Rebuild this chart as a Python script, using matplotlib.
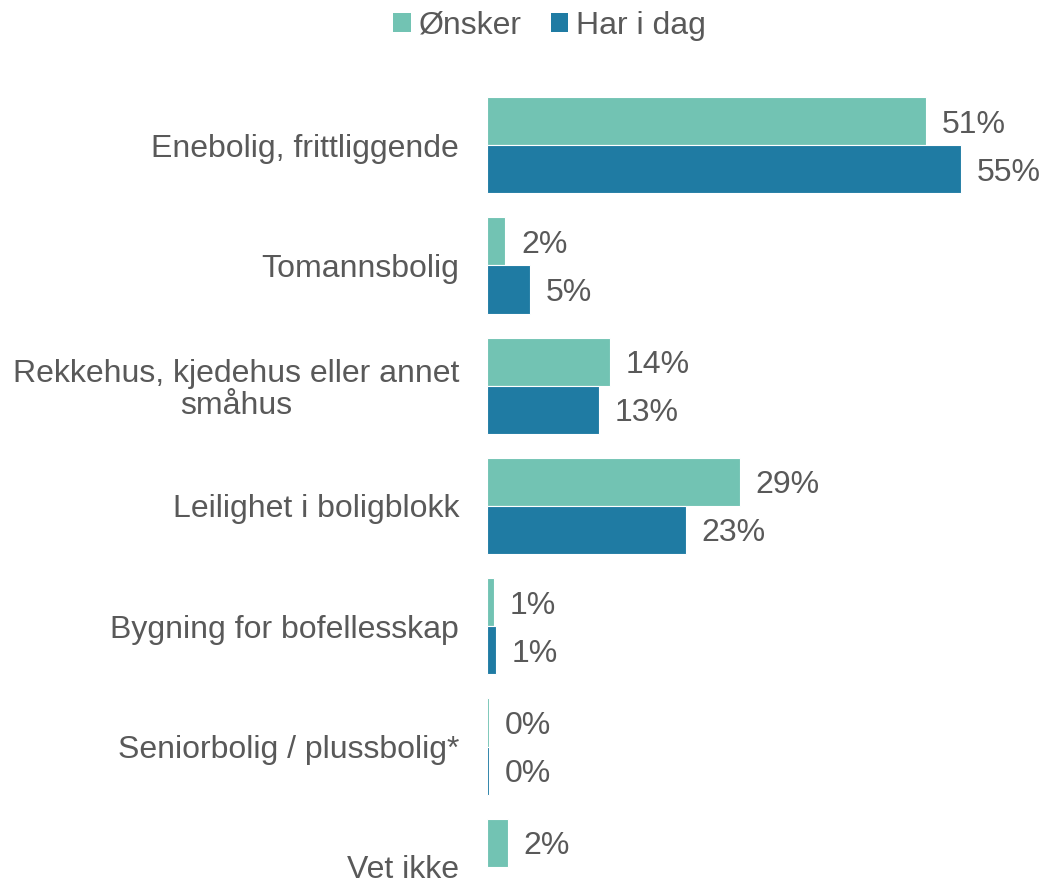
import numpy as np
import matplotlib
matplotlib.use("Agg")
import matplotlib.pyplot as plt
from matplotlib.patches import Patch

plt.rcParams['font.family'] = ['Liberation Sans', 'DejaVu Sans']

categories = ["Enebolig, frittliggende", "Tomannsbolig",
              "Rekkehus, kjedehus eller annet\nsmåhus", "Leilighet i boligblokk",
              "Bygning for bofellesskap", "Seniorbolig / plussbolig*", "Vet ikke"]
onsker = [51.0, 2.1, 14.3, 29.4, 0.8, 0.2, 2.4]
har_i_dag = [55.1, 5.0, 13.0, 23.1, 1.0, 0.2, np.nan]
series_names = ["Ønsker", "Har i dag"]
colors = ["#72C3B3", "#1F7BA3"]
text_color = "#595959"
fs = 23

W, H = 1043, 881
fig = plt.figure(figsize=(W / 100, H / 100), dpi=100)
px_per_cat = 120.3
ax_left_px, ax_top_px = 487, 85
ymin = (H - 145) / px_per_cat  # data value at figure bottom
ax = fig.add_axes([ax_left_px / W, 0, (W - ax_left_px) / W, (H - ax_top_px) / H])

y = np.arange(len(categories))
bh = 0.4
for vals, off, col in [(onsker, -bh / 2, colors[0]), (har_i_dag, bh / 2, colors[1])]:
    v = np.array(vals, dtype=float)
    ax.barh(y + off, np.nan_to_num(v), height=bh, color=col, edgecolor='white', linewidth=0.8)
    for yi, val in zip(y, v):
        if np.isnan(val):
            continue
        ax.annotate(f"{val:.0f}%", xy=(val, yi + off), xytext=(11.5, -2.5), textcoords='offset points',
                    ha='left', va='center', fontsize=fs, color=text_color, clip_on=False)

ax.set_xlim(0, (W - ax_left_px) / 8.6)
ax.set_ylim(ymin, -0.5)
ax.set_yticks(y)
ax.set_yticklabels(categories, fontsize=fs, color=text_color, multialignment='center',
                   linespacing=1.1)
ax.tick_params(axis='y', length=0, pad=20)
ax.set_xticks([])
for s in ax.spines.values():
    s.set_visible(False)

handles = [Patch(facecolor=c, edgecolor='none') for c in colors]
fig.legend(handles, series_names, loc='center', bbox_to_anchor=(0.527, 0.971), ncol=2,
           frameon=False, fontsize=fs, labelcolor=text_color, handlelength=0.55, handleheight=0.55,
           handletextpad=0.25, columnspacing=0.9, borderpad=0)

fig.savefig("out.png", dpi=100)
